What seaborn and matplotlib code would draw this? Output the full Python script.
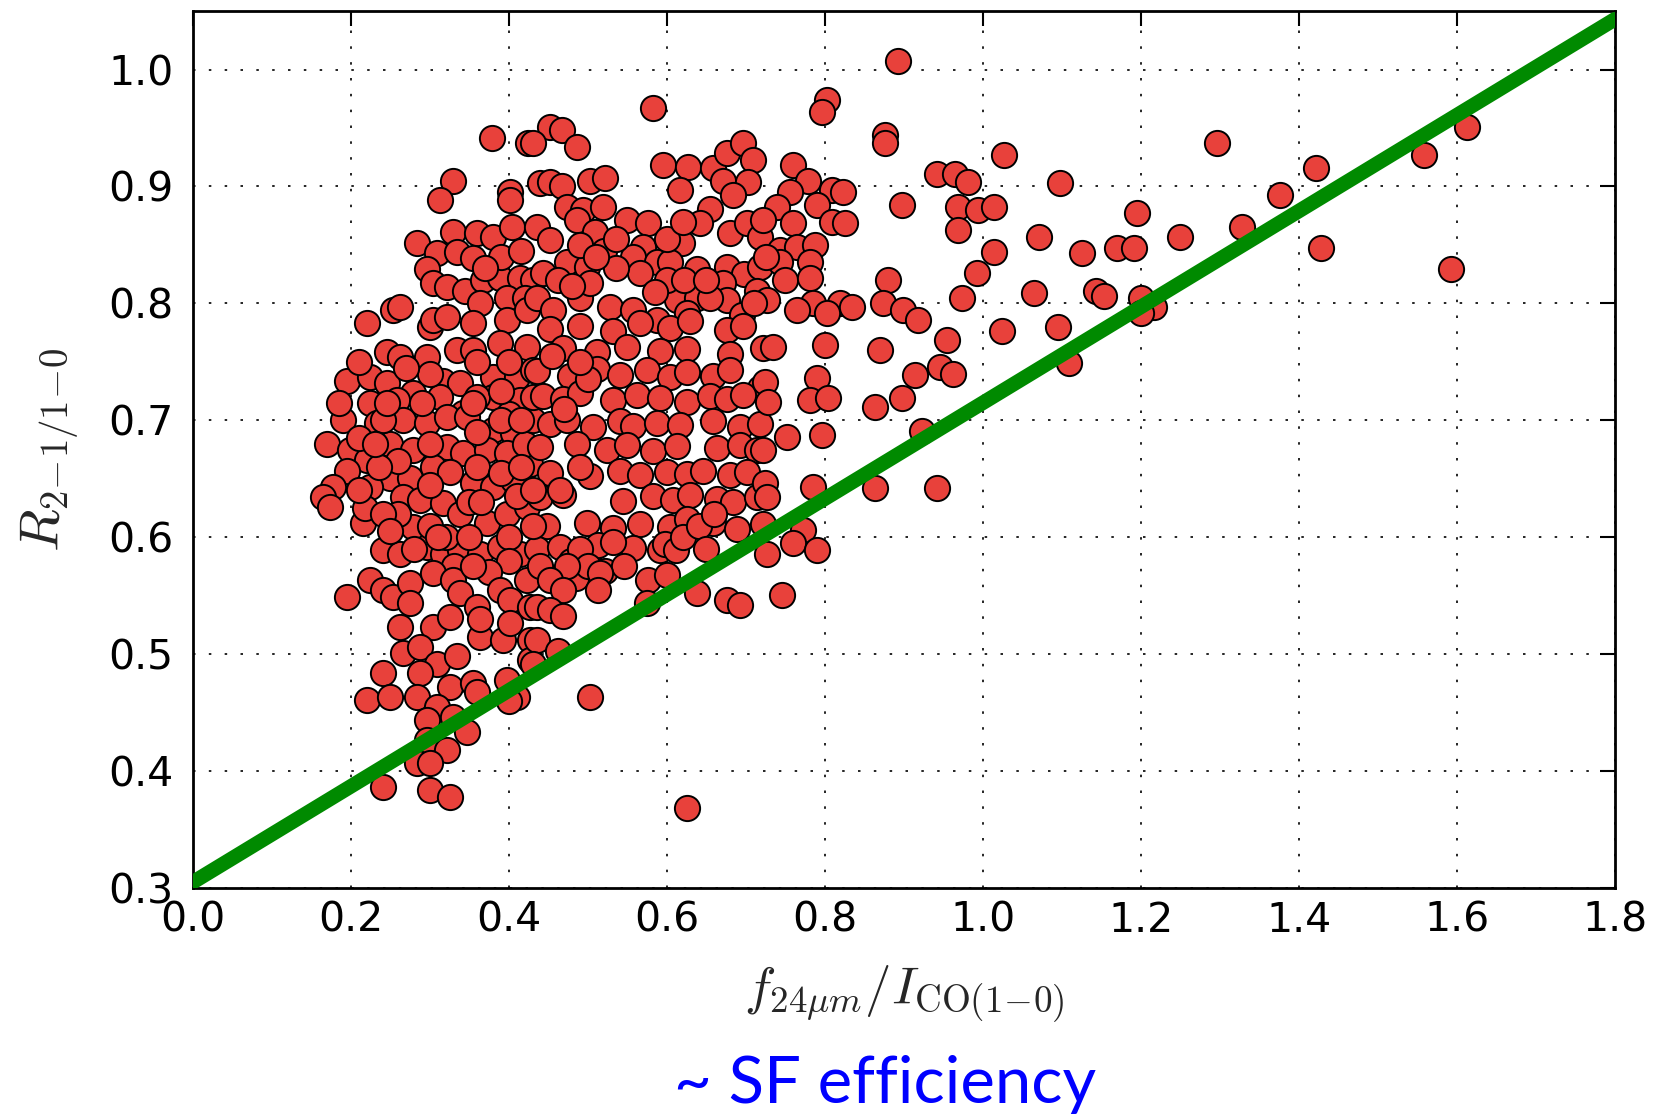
import matplotlib
matplotlib.use("Agg")
import matplotlib.pyplot as plt
import seaborn as sns
import pandas as pd

# ---- ratio data: f24um / I_CO(1-0) versus R_{2-1/1-0} ----
# upper part of the cloud (R > ~0.78)
upper_x = [0.378, 0.424, 0.452, 0.467, 0.486, 0.430, 0.582, 0.802, 0.796,
           0.329, 0.313, 0.401, 0.401, 0.439,
           0.595, 0.627, 0.616, 0.658, 0.676, 0.696, 0.709, 0.671, 0.703, 0.684,
           0.452, 0.467, 0.503, 0.522,
           0.760, 0.778, 0.756, 0.809, 0.823,
           0.284, 0.329, 0.359, 0.380, 0.404, 0.435,
           0.473, 0.494, 0.519, 0.549, 0.576, 0.452, 0.486, 0.509,
           0.654, 0.642, 0.680, 0.701, 0.718, 0.619,
           0.790, 0.739, 0.722, 0.760, 0.809, 0.825,
           0.309, 0.334, 0.354, 0.296, 0.304, 0.322, 0.344, 0.367, 0.389, 0.414, 0.430,
           0.570, 0.557, 0.587, 0.604, 0.638, 0.473, 0.499, 0.443, 0.566,
           0.676, 0.697, 0.718, 0.671, 0.714, 0.676,
           0.743, 0.765, 0.787, 0.743, 0.781, 0.749, 0.781, 0.725,
           0.363, 0.397, 0.420, 0.253, 0.262, 0.220, 0.300, 0.304, 0.322, 0.354, 0.397, 0.423,
           0.435, 0.456, 0.490, 0.503, 0.528, 0.557, 0.587, 0.613, 0.638, 0.625, 0.654,
           0.727, 0.785, 0.765, 0.819, 0.834, 0.802,
           0.520, 0.535, 0.600, 0.585, 0.462, 0.480, 0.622, 0.650, 0.695, 0.710,
           0.390, 0.415, 0.370, 0.490, 0.535, 0.510, 0.600, 0.620]
upper_y = [0.941, 0.937, 0.951, 0.948, 0.934, 0.937, 0.967, 0.974, 0.964,
           0.905, 0.888, 0.895, 0.888, 0.903,
           0.918, 0.917, 0.897, 0.916, 0.929, 0.937, 0.923, 0.905, 0.904, 0.893,
           0.904, 0.900, 0.905, 0.907,
           0.918, 0.905, 0.895, 0.897, 0.895,
           0.852, 0.861, 0.860, 0.857, 0.865, 0.865,
           0.882, 0.880, 0.882, 0.871, 0.869, 0.854, 0.871, 0.861,
           0.881, 0.869, 0.860, 0.869, 0.857, 0.852,
           0.884, 0.882, 0.871, 0.869, 0.870, 0.869,
           0.843, 0.844, 0.839, 0.829, 0.817, 0.814, 0.811, 0.820, 0.822, 0.822, 0.820,
           0.848, 0.840, 0.835, 0.835, 0.829, 0.835, 0.831, 0.826, 0.826,
           0.831, 0.825, 0.831, 0.817, 0.811, 0.803,
           0.846, 0.848, 0.850, 0.835, 0.835, 0.820, 0.822, 0.840,
           0.800, 0.805, 0.805, 0.794, 0.797, 0.783, 0.780, 0.786, 0.788, 0.783, 0.786, 0.794,
           0.805, 0.794, 0.805, 0.817, 0.797, 0.794, 0.786, 0.803, 0.805, 0.792, 0.805,
           0.803, 0.800, 0.794, 0.800, 0.797, 0.792,
           0.845, 0.830, 0.820, 0.810, 0.820, 0.815, 0.820, 0.820, 0.790, 0.800,
           0.840, 0.845, 0.830, 0.850, 0.855, 0.840, 0.855, 0.870]

# dense middle of the cloud (R ~ 0.57 - 0.78)
core_x = [0.245, 0.262, 0.296, 0.334, 0.354, 0.389, 0.423,
          0.195, 0.224, 0.245, 0.278, 0.316, 0.338, 0.380, 0.410, 0.430,
          0.224, 0.258, 0.313, 0.342, 0.380, 0.414,
          0.190, 0.233, 0.266, 0.296, 0.322, 0.347, 0.380, 0.405,
          0.170, 0.199, 0.220, 0.249, 0.278, 0.322, 0.342, 0.372, 0.397, 0.427,
          0.195, 0.249, 0.275, 0.304, 0.325, 0.354, 0.380, 0.405,
          0.177, 0.165, 0.173, 0.224, 0.266, 0.287, 0.316, 0.338, 0.372, 0.397, 0.423,
          0.215, 0.278, 0.240, 0.262, 0.296, 0.316, 0.338, 0.363, 0.389, 0.414, 0.218,
          0.360, 0.400, 0.300, 0.360, 0.400, 0.360, 0.300, 0.260, 0.360, 0.420,
          0.430, 0.430, 0.290, 0.240, 0.300, 0.350, 0.410, 0.260, 0.300, 0.320,
          0.350, 0.400, 0.280,
          0.452, 0.490, 0.532, 0.566, 0.604, 0.629, 0.676, 0.696,
          0.468, 0.511, 0.549, 0.591, 0.625, 0.680, 0.722,
          0.435, 0.477, 0.511, 0.540, 0.575, 0.604, 0.625, 0.658, 0.680, 0.718,
          0.443, 0.468, 0.490, 0.532, 0.562, 0.591, 0.625, 0.654, 0.676, 0.696,
          0.452, 0.473, 0.506, 0.540, 0.557, 0.587, 0.616, 0.658, 0.692, 0.718,
          0.439, 0.486, 0.524, 0.549, 0.582, 0.613, 0.663, 0.692, 0.714,
          0.452, 0.503, 0.540, 0.566, 0.600, 0.625, 0.646, 0.680, 0.701,
          0.439, 0.468, 0.544, 0.582, 0.608, 0.629, 0.663, 0.684, 0.714,
          0.448, 0.499, 0.532, 0.566, 0.604, 0.658, 0.689, 0.722,
          0.435, 0.465, 0.503, 0.557, 0.591, 0.513, 0.532, 0.597, 0.612, 0.625,
          0.734, 0.800, 0.790, 0.781, 0.804, 0.724, 0.728,
          0.752, 0.722, 0.796, 0.785, 0.724, 0.727,
          0.772, 0.760, 0.790, 0.727, 0.478, 0.521,
          0.485, 0.490, 0.500, 0.545, 0.620, 0.640, 0.650, 0.660,
          0.465, 0.490, 0.470, 0.500, 0.455, 0.490,
          0.330, 0.310, 0.210, 0.235, 0.210, 0.240, 0.250, 0.230, 0.245, 0.270,
          0.210, 0.185, 0.365, 0.390, 0.415, 0.390, 0.415, 0.390, 0.355, 0.430,
          0.430, 0.400, 0.375]
core_y = [0.758, 0.754, 0.754, 0.760, 0.760, 0.766, 0.763,
          0.734, 0.737, 0.732, 0.723, 0.734, 0.732, 0.737, 0.737, 0.743,
          0.715, 0.717, 0.720, 0.706, 0.720, 0.717,
          0.700, 0.698, 0.700, 0.698, 0.703, 0.703, 0.692, 0.689,
          0.680, 0.675, 0.666, 0.680, 0.675, 0.677, 0.672, 0.675, 0.672, 0.663,
          0.657, 0.651, 0.651, 0.660, 0.656, 0.646, 0.643, 0.649,
          0.643, 0.634, 0.626, 0.643, 0.634, 0.632, 0.629, 0.620, 0.612, 0.620, 0.626,
          0.612, 0.609, 0.589, 0.586, 0.592, 0.586, 0.589, 0.586, 0.592, 0.586, 0.625,
          0.750, 0.750, 0.740, 0.720, 0.705, 0.690, 0.680, 0.665, 0.660, 0.680,
          0.700, 0.720, 0.715, 0.700, 0.645, 0.630, 0.635, 0.620, 0.610, 0.600,
          0.600, 0.600, 0.590,
          0.778, 0.781, 0.776, 0.783, 0.779, 0.785, 0.777, 0.781,
          0.762, 0.758, 0.763, 0.759, 0.761, 0.757, 0.762,
          0.742, 0.738, 0.744, 0.739, 0.743, 0.737, 0.741, 0.738, 0.743, 0.728,
          0.721, 0.718, 0.723, 0.717, 0.722, 0.719, 0.716, 0.721, 0.718, 0.722,
          0.697, 0.700, 0.694, 0.699, 0.695, 0.698, 0.696, 0.699, 0.694, 0.697,
          0.677, 0.680, 0.675, 0.679, 0.674, 0.678, 0.676, 0.679, 0.675,
          0.655, 0.652, 0.657, 0.653, 0.656, 0.654, 0.657, 0.653, 0.656,
          0.634, 0.636, 0.631, 0.635, 0.632, 0.636, 0.633, 0.630, 0.634,
          0.610, 0.612, 0.608, 0.611, 0.609, 0.612, 0.607, 0.611,
          0.590, 0.592, 0.588, 0.591, 0.589, 0.593, 0.596, 0.594, 0.589, 0.616,
          0.763, 0.764, 0.736, 0.717, 0.719, 0.733, 0.716,
          0.686, 0.675, 0.687, 0.643, 0.646, 0.634,
          0.606, 0.595, 0.589, 0.586, 0.580, 0.571,
          0.565, 0.590, 0.575, 0.575, 0.600, 0.610, 0.590, 0.620,
          0.640, 0.660, 0.710, 0.735, 0.755, 0.750,
          0.575, 0.600, 0.685, 0.660, 0.640, 0.620, 0.605, 0.680, 0.715, 0.745,
          0.750, 0.715, 0.630, 0.655, 0.660, 0.700, 0.700, 0.725, 0.715, 0.640,
          0.610, 0.580, 0.570]

# lower tail of the cloud (R < ~0.57)
lower_x = [0.195, 0.224, 0.240, 0.253, 0.275, 0.275, 0.304, 0.329, 0.338, 0.354,
           0.359, 0.389, 0.401, 0.423, 0.427,
           0.262, 0.304, 0.325, 0.363, 0.392, 0.401, 0.427, 0.363,
           0.266, 0.287, 0.309, 0.334,
           0.240, 0.287, 0.325, 0.354, 0.360,
           0.220, 0.249, 0.284, 0.309, 0.296, 0.329, 0.347, 0.296, 0.322, 0.284,
           0.300, 0.240, 0.300, 0.325,
           0.397, 0.410, 0.400, 0.427,
           0.515, 0.513, 0.576, 0.600, 0.575, 0.638, 0.676, 0.692, 0.503, 0.625,
           0.439, 0.473, 0.452, 0.468, 0.435, 0.452, 0.468, 0.435, 0.462, 0.430,
           0.745]
lower_y = [0.549, 0.563, 0.555, 0.549, 0.561, 0.544, 0.569, 0.563, 0.552, 0.575,
           0.540, 0.555, 0.546, 0.563, 0.540,
           0.523, 0.523, 0.532, 0.515, 0.512, 0.527, 0.512, 0.530,
           0.501, 0.506, 0.492, 0.498,
           0.484, 0.484, 0.472, 0.475, 0.468,
           0.461, 0.463, 0.463, 0.455, 0.444, 0.446, 0.433, 0.427, 0.418, 0.407,
           0.407, 0.386, 0.384, 0.378,
           0.478, 0.463, 0.460, 0.495,
           0.569, 0.555, 0.563, 0.568, 0.544, 0.552, 0.546, 0.542, 0.463, 0.368,
           0.575, 0.575, 0.563, 0.555, 0.540, 0.538, 0.533, 0.512, 0.503, 0.492,
           0.551]

# sparse points at high f24um / I_CO
outer_x = [0.893, 0.876, 0.876, 0.942, 0.965, 0.981, 0.897, 0.968, 0.994, 0.968,
           0.880, 0.992, 0.873, 0.899, 0.918, 0.973,
           0.870, 0.954, 0.946, 0.962, 0.914, 0.897, 0.863, 0.923, 0.863, 0.942,
           1.027, 1.296, 1.421, 1.613, 1.558, 1.098, 1.376, 1.014, 1.195, 1.328,
           1.071, 1.249, 1.014, 1.125, 1.170, 1.191, 1.428, 1.592, 1.065, 1.143,
           1.153, 1.200, 1.216, 1.200, 1.024, 1.095, 1.109]
outer_y = [1.007, 0.944, 0.937, 0.911, 0.911, 0.904, 0.884, 0.882, 0.880, 0.863,
           0.820, 0.826, 0.800, 0.794, 0.786, 0.805,
           0.760, 0.769, 0.746, 0.740, 0.739, 0.719, 0.711, 0.691, 0.642, 0.642,
           0.927, 0.937, 0.916, 0.951, 0.927, 0.903, 0.893, 0.882, 0.877, 0.865,
           0.857, 0.857, 0.844, 0.843, 0.847, 0.847, 0.847, 0.829, 0.809, 0.811,
           0.806, 0.805, 0.797, 0.792, 0.776, 0.780, 0.749]

# straight guide line
fit_x = [0.0, 1.8]
fit_y = [0.305, 1.043]

x_ticks = [0.0, 0.2, 0.4, 0.6, 0.8, 1.0, 1.2, 1.4, 1.6, 1.8]
y_ticks = [0.3, 0.4, 0.5, 0.6, 0.7, 0.8, 0.9, 1.0]

points = pd.DataFrame({
    "ratio_24": upper_x + core_x + lower_x + outer_x,
    "r21": upper_y + core_y + lower_y + outer_y,
})
line = pd.DataFrame({"ratio_24": fit_x, "r21": fit_y})

sns.set_style("white")
plt.rcParams["font.family"] = ["DejaVu Sans"]
plt.rcParams["mathtext.fontset"] = "cm"

fig = plt.figure(figsize=(16.58, 11.16), dpi=100)
ax = fig.add_axes([0.1164, 0.2043, 0.8576, 0.7858])

sns.scatterplot(data=points, x="ratio_24", y="r21", ax=ax, s=330,
                color="#e8413b", edgecolor="black", linewidth=1.4, zorder=3)
sns.lineplot(data=line, x="ratio_24", y="r21", ax=ax, color="#008a00",
             linewidth=10.5, zorder=4, sort=False)

ax.set_xlim(0, 1.8)
ax.set_ylim(0.3, 1.05)
ax.set_xticks(x_ticks)
ax.set_yticks(y_ticks)
ax.set_xticklabels([f"{v:.1f}" for v in x_ticks])
ax.set_yticklabels([f"{v:.1f}" for v in y_ticks])
ax.tick_params(axis="both", direction="in", length=11, width=1.5, labelsize=29.5,
               top=True, right=True, colors="black")
ax.tick_params(axis="x", pad=9)
ax.tick_params(axis="y", pad=14)
ax.grid(True, color="black", linestyle=(0, (1.5, 8)), linewidth=1.2, zorder=0)
for sp in ax.spines.values():
    sp.set_visible(True)
    sp.set_color("black")
    sp.set_linewidth(2)

ax.set_xlabel(r"$f_{24\mu m}/I_{\rm CO(1\!-\!0)}$", fontsize=38)
ax.set_ylabel(r"$R_{2\!-\!1/1\!-\!0}$", fontsize=40)
ax.xaxis.set_label_coords(0.5, -0.122)
ax.yaxis.set_label_coords(-0.101, 0.50)
ax.xaxis.label.set_va("center")
ax.yaxis.label.set_va("center")

fig.text(0.534, 0.0116, "~ SF efficiency", color="#0000ff", fontsize=47,
         family=["Lato", "DejaVu Sans"], ha="center", va="baseline")

fig.savefig("out.png", dpi=100)
